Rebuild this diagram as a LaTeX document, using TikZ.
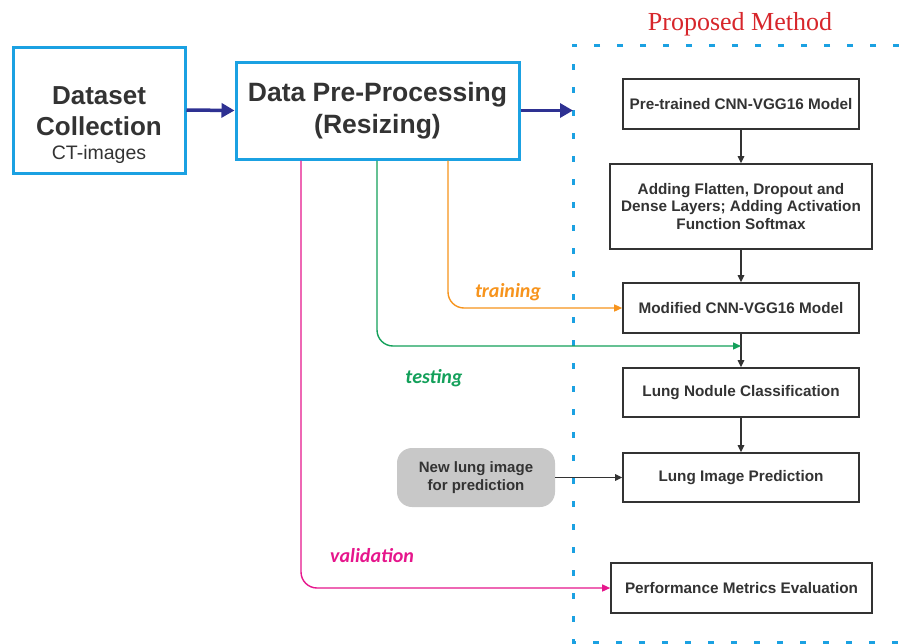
\documentclass[tikz,border=0pt]{standalone}
\usepackage{fontspec}
\setmainfont{Liberation Sans}
\newfontfamily\lblfont{Carlito}
\newfontfamily\titlefont{Liberation Serif}
\usetikzlibrary{arrows.meta}
\definecolor{cyanb}{HTML}{1BA1E2}
\definecolor{navy}{HTML}{2E3192}
\definecolor{dgray}{HTML}{333333}
\definecolor{orng}{HTML}{F7941D}
\definecolor{grn}{HTML}{13A05A}
\definecolor{mag}{HTML}{E6168C}
\definecolor{ttlred}{HTML}{D7262B}
\definecolor{gbox}{HTML}{C8C8C8}
\tikzset{
  bluebox/.style={draw=cyanb, line width=3pt, fill=white, inner sep=0pt},
  rbox/.style={draw=dgray, line width=1.6pt, fill=white, text=dgray, align=center,
     font=\fontsize{15.3}{17.5}\selectfont\bfseries, inner sep=0pt},
  thick arrow/.style={navy, line width=3.5pt, -{Triangle[length=13pt,width=14pt]}},
  flow/.style={dgray, line width=1.4pt, -{Triangle[length=7pt,width=6.5pt]}},
  cline/.style={line width=1.4pt, rounded corners=16pt, -{Triangle[length=8pt,width=7pt]}},
  lbl/.style={font=\lblfont\fontsize{20}{24}\selectfont\bfseries\itshape}
}
\begin{document}
\begin{tikzpicture}[x=1pt,y=-1pt]
\useasboundingbox (0,0) rectangle (899,643);
\fill[white] (0,0) rectangle (899,643);
% dashed frame
\draw[cyanb, line width=3pt, dash pattern=on 6pt off 17pt] (899,45) -- (573,45) -- (573,642) -- (899,642);
\node[text=ttlred, font=\titlefont\fontsize{26}{30}\selectfont] (title) at (740,24) {Proposed Method};
% left boxes
\node[bluebox, minimum width=172pt, minimum height=126pt] (ds) at (99,110) {};
\node[align=center, text=dgray, font=\fontsize{26}{31}\selectfont\bfseries] (dstxt) at (99,125) {Dataset\\Collection\\[-7pt]{\mdseries\fontsize{19.5}{22}\selectfont CT-images}};
\node[bluebox, minimum width=283pt, minimum height=97pt, align=center, text=dgray,
  font=\fontsize{26.5}{32}\selectfont\bfseries] (pp) at (377.5,110.5) {Data Pre-Processing\\(Resizing)};
\coordinate (frameIn) at (573,110.5);
\draw[thick arrow] (ds.east) -- (pp.west);
\draw[thick arrow] (pp.east) -- (frameIn);
% right boxes
\node[rbox, minimum width=236pt, minimum height=50pt] (pre) at (741,104) {Pre-trained CNN-VGG16 Model};
\node[rbox, minimum width=262pt, minimum height=85pt] (add) at (741,206.5) {Adding Flatten, Dropout and\\Dense Layers; Adding Activation\\Function Softmax};
\node[rbox, minimum width=236pt, minimum height=50pt] (mod) at (741,308) {Modified CNN-VGG16 Model};
\node[rbox, minimum width=236pt, minimum height=49pt] (lnc) at (741,392.5) {Lung Nodule Classification};
\node[rbox, minimum width=236pt, minimum height=49pt] (lip) at (741,477.5) {Lung Image Prediction};
\node[rbox, minimum width=261pt, minimum height=50pt] (pme) at (741.5,588) {Performance Metrics Evaluation};
\node[fill=gbox, rounded corners=15pt, minimum width=158pt, minimum height=59pt, align=center, text=dgray,
  font=\fontsize{15}{18}\selectfont\bfseries, inner sep=0pt] (nli) at (476,477.5) {New lung image\\for prediction};
\draw[flow] (pre) -- (add);
\draw[flow] (add) -- (mod);
\draw[flow] (mod) -- (lnc);
\draw[flow] (lnc) -- (lip);
\draw[flow] (nli) -- (lip);
% coloured lines
\coordinate (tmeet) at (741,346);
\draw[cline, orng] (pp.south -| 448,0) |- (mod.west);
\draw[cline, grn] (pp.south -| 377,0) |- (tmeet);
\draw[cline, mag] (pp.south -| 301,0) |- (pme.west);
\node[lbl, text=orng] (ltrain) at (508,292) {training};
\node[lbl, text=grn] (ltest) at (434,378) {testing};
\node[lbl, text=mag] (lval) at (372,556) {validation};
\end{tikzpicture}
\end{document}
